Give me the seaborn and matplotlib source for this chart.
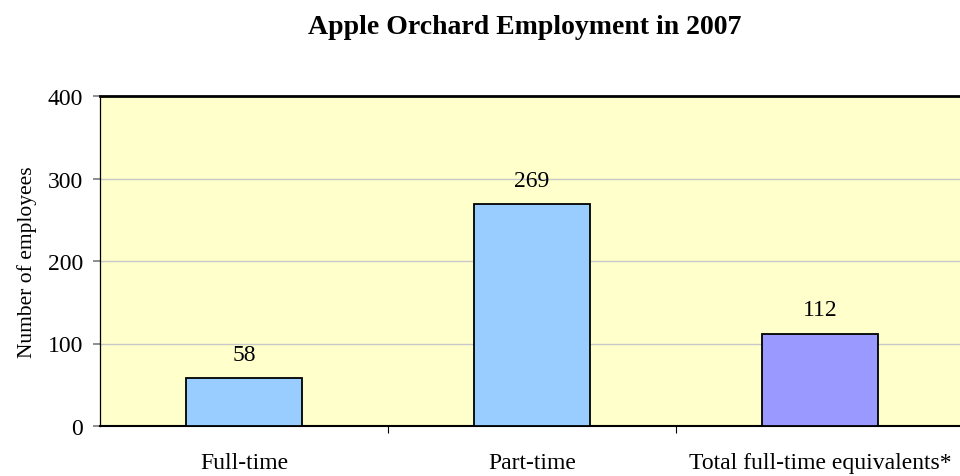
import numpy as np
import pandas as pd
import matplotlib.pyplot as plt
import seaborn as sns

sns.set_theme(style="white")
plt.rcParams['font.family'] = ['Liberation Serif', 'DejaVu Serif']
plt.rcParams['text.color'] = 'black'
plt.rcParams['xtick.color'] = 'black'
plt.rcParams['ytick.color'] = 'black'
plt.rcParams['axes.labelcolor'] = 'black'

# data
categories = ["Full-time", "Part-time", "Total full-time equivalents*"]
employees = [58, 269, 112]
bar_colors = ["#99CCFF", "#99CCFF", "#9999FF"]

df = pd.DataFrame({"category": categories, "employees": employees})

fig = plt.figure(figsize=(9.6, 4.77), dpi=100)
ax = fig.add_axes([100 / 960, 1 - 427 / 477, 864 / 960, 330 / 477])
ax.set_facecolor("#FFFFCC")

sns.barplot(data=df, x="category", y="employees", hue="category",
            palette=bar_colors, saturation=1, width=0.4, edgecolor="black",
            linewidth=1.3, legend=False, ax=ax, zorder=3)

for i, v in enumerate(employees):
    ax.text(i, v + 16, str(v), ha="center", va="bottom", fontsize=17)

ax.set_ylim(0, 400)
ax.set_xlim(-0.5, 2.5)
ax.set_yticks([0, 100, 200, 300, 400])
ax.yaxis.grid(True, color="#C8C8C8", linewidth=1, zorder=0)
ax.set_axisbelow(True)

ax.set_xticks([0, 1, 2])
ax.set_xticklabels(categories, fontsize=17)
ax.set_xticks([0.5, 1.5], minor=True)
ax.tick_params(axis="x", which="major", length=0, pad=19)
ax.tick_params(axis="x", which="minor", direction="out", length=5,
               color="black", width=0.8, bottom=True)
ax.tick_params(axis="y", direction="out", length=5, color="#808080",
               labelsize=17, left=True, pad=7)

ax.set_xlabel("")
ax.set_ylabel("Number of employees", fontsize=15.5, labelpad=8)

for side in ["left", "bottom", "top"]:
    ax.spines[side].set_visible(True)
    ax.spines[side].set_color("black")
ax.spines["left"].set_linewidth(0.9)
ax.spines["bottom"].set_linewidth(1.5)
ax.spines["top"].set_linewidth(2)
ax.spines["right"].set_visible(False)

fig.text(525 / 960, 1 - 27 / 477, "Apple Orchard Employment in 2007",
         ha="center", va="center", fontsize=20, fontweight="bold")

fig.savefig("out.png", dpi=100)
